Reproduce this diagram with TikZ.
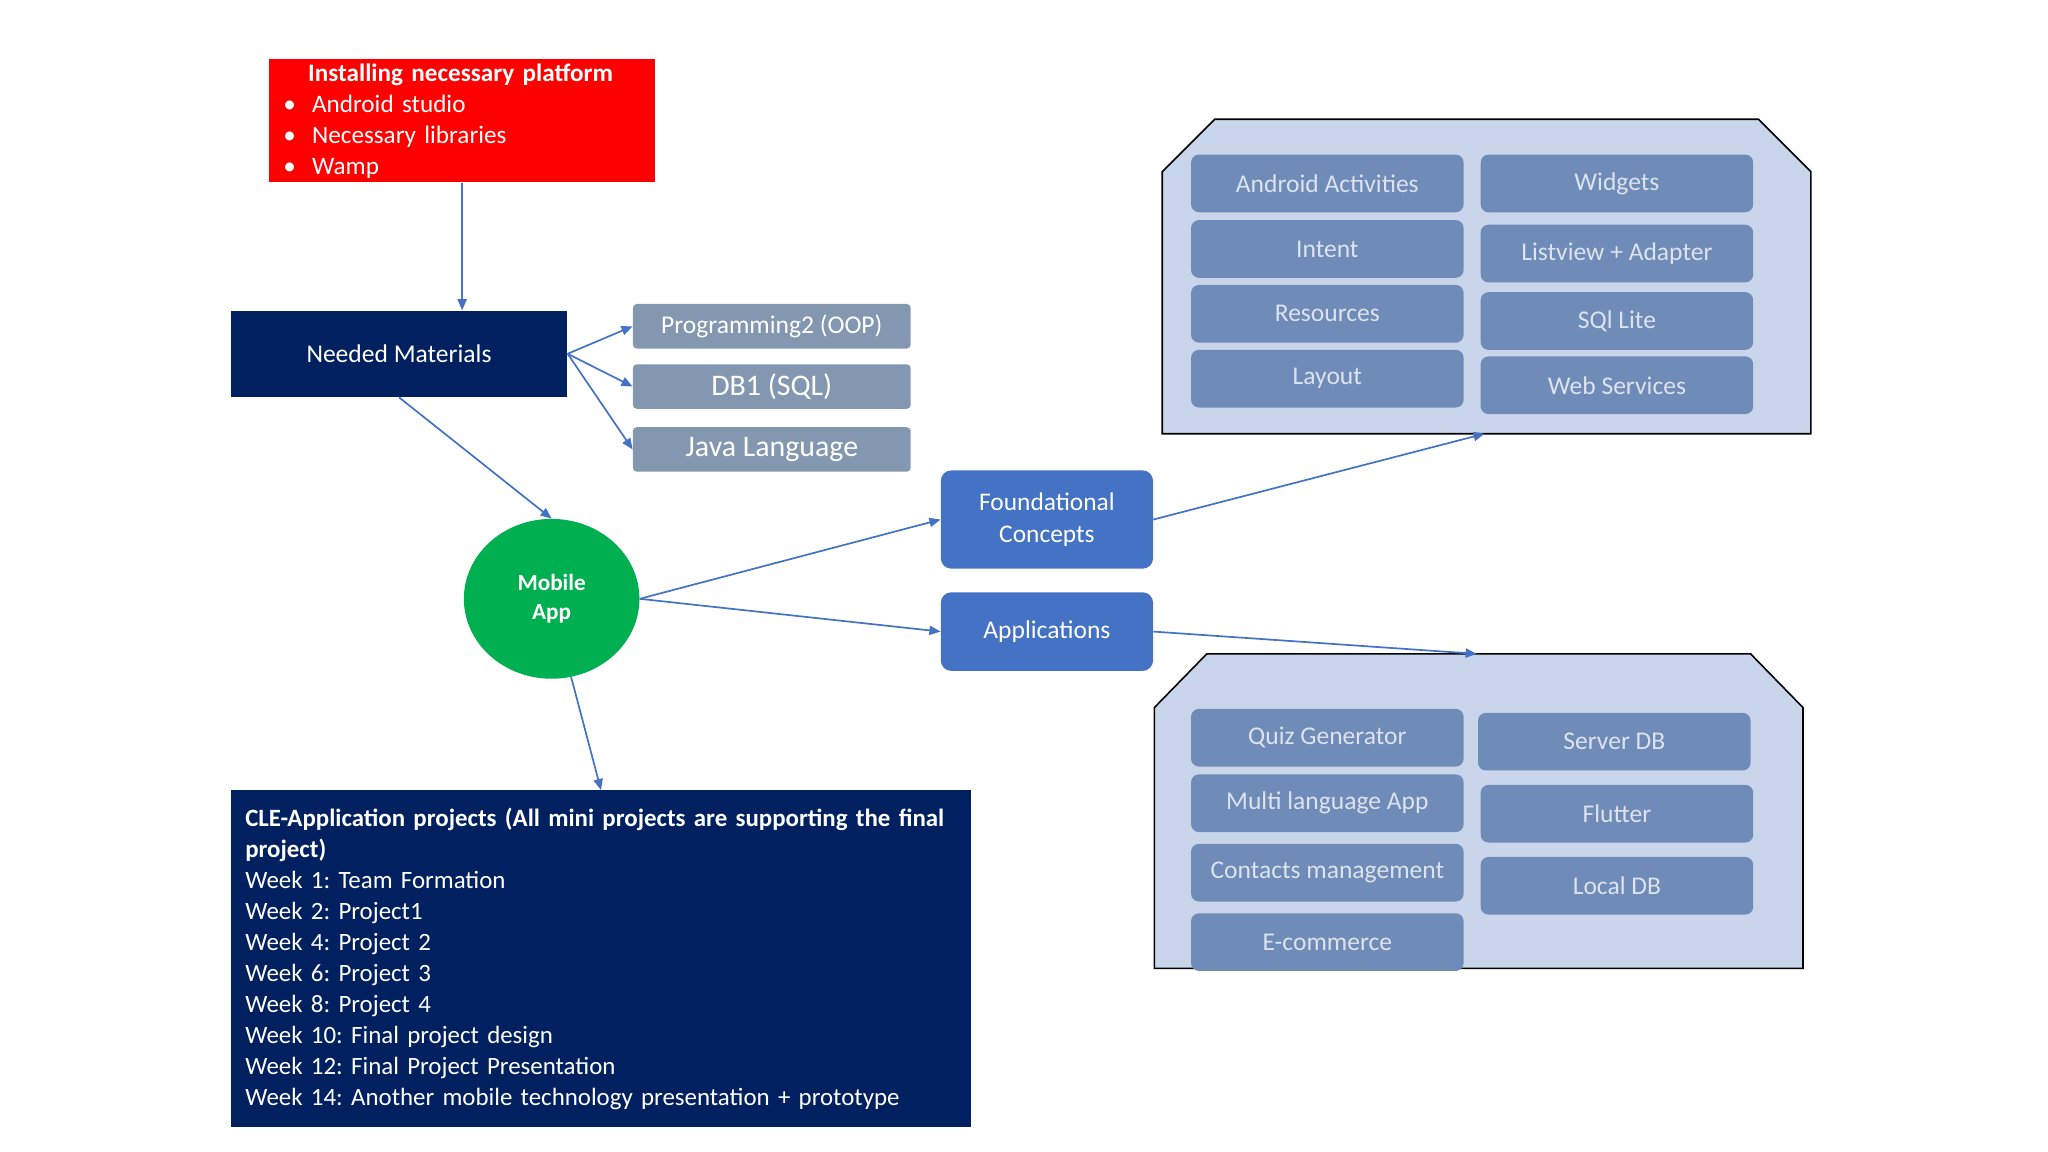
\documentclass[tikz,border=0pt]{standalone}
\usepackage{fontspec}
\setmainfont{Carlito}
\usepackage{xcolor}
\usepackage{tikz}
\usetikzlibrary{shapes.geometric}
\usetikzlibrary{arrows.meta}

\definecolor{navy}{HTML}{002060}
\definecolor{signalred}{HTML}{FF0000}
\definecolor{appgreen}{HTML}{00B050}
\definecolor{linkblue}{HTML}{4472C4}
\definecolor{slate}{HTML}{8497B0}
\definecolor{groupfill}{HTML}{C9D5EB}
\definecolor{tilefill}{HTML}{6F8BB8}
\definecolor{tiletext}{HTML}{DDE3EE}
\frenchspacing

\begin{document}
\begin{tikzpicture}[x=1pt, y=-1pt,
		every node/.style={inner sep=0pt, text=white, font=\fontsize{19.5}{23.6}\selectfont},
		link/.style={draw=linkblue, line width=1.3pt, -{Triangle[length=8.5pt, width=7pt]}},
		subject/.style={fill=slate, rounded corners=3pt, minimum width=212, minimum height=34},
		tile/.style={fill=tilefill, rounded corners=6pt, minimum width=208, minimum height=44, text=tiletext, font=\fontsize{19.5}{22}\selectfont},
		group/.style={fill=groupfill, draw=black, line width=1.2pt}]
	\useasboundingbox (0,0) rectangle (1563,879);

	% platform and materials
	\node[anchor=north west, fill=signalred, minimum width=295, minimum height=94, text width=273, inner xsep=11pt, align=left, font=\fontsize{19.2}{23.6}\selectfont] (install) at (205,45)
		{\textbf{\hspace*{19pt}Installing necessary platform}\\
		\makebox[22pt][l]{\textbullet}Android studio\\
		\makebox[22pt][l]{\textbullet}Necessary libraries\\
		\makebox[22pt][l]{\textbullet}Wamp};
	\node[fill=navy, minimum width=257, minimum height=66] (needed) at (304.5,270) {Needed Materials};
	\node[subject] (oop) at (589,249) {Programming2 (OOP)};
	\node[subject, font=\fontsize{22.8}{26}\selectfont] (sql) at (589,295) {DB1 (SQL)};
	\node[subject, font=\fontsize{22.8}{26}\selectfont] (java) at (589,343) {Java Language};

	% centre
	\node[ellipse, fill=appgreen, minimum width=134, minimum height=122, align=center, font=\bfseries\fontsize{17.7}{22}\selectfont] (mobile) at (421,457) {Mobile\\App};
	\node[fill=linkblue, rounded corners=8pt, minimum width=162, minimum height=75, align=center, font=\fontsize{19.4}{24}\selectfont] (concepts) at (799,396.5) {Foundational\\Concepts};
	\node[fill=linkblue, rounded corners=8pt, minimum width=162, minimum height=60] (apps) at (799,482) {Applications};

	% projects
	\node[anchor=north west, fill=navy, minimum width=565, minimum height=257, text width=543, inner xsep=11pt, align=left, font=\fontsize{19}{23.6}\selectfont] (projects) at (176,603)
		{\textbf{CLE-Application projects (All mini projects are supporting the final}\\
		\textbf{project)}\\
		Week 1: Team Formation\\
		Week 2: Project1\\
		Week 4: Project 2\\
		Week 6: Project 3\\
		Week 8: Project 4\\
		Week 10: Final project design\\
		Week 12: Final Project Presentation\\
		Week 14: Another mobile technology presentation + prototype};

	% groups
	\draw[group] (887,331) -- (887,131) -- (927,91) -- (1342,91) -- (1382,131) -- (1382,331) -- cycle;
	\draw[group] (881,739) -- (881,540) -- (921,499) -- (1336,499) -- (1376,540) -- (1376,739) -- cycle;
	\coordinate (conceptsdock) at (1133,331);
	\coordinate (appsdock) at (1127,499);

	\node[tile] (activities) at (1013,140) {Android Activities};
	\node[tile] (intent) at (1013,190) {Intent};
	\node[tile] (resources) at (1013,239.5) {Resources};
	\node[tile] (layout) at (1013,289) {Layout};
	\node[tile] (widgets) at (1234,140) {Widgets};
	\node[tile] (listview) at (1234,193.5) {Listview + Adapter};
	\node[tile] (sqlite) at (1234,245) {SQl Lite};
	\node[tile] (webservices) at (1234,294) {Web Services};

	\node[tile] (quiz) at (1013,563) {Quiz Generator};
	\node[tile] (multilang) at (1013,613) {Multi language App};
	\node[tile] (contacts) at (1013,666) {Contacts management};
	\node[tile] (ecommerce) at (1013,719) {E-commerce};
	\node[tile] (serverdb) at (1232,566) {Server DB};
	\node[tile] (flutter) at (1234,621) {Flutter};
	\node[tile] (localdb) at (1234,676) {Local DB};

	% connectors
	\draw[link] (install.south) -- (install.south |- needed.north);
	\draw[link] (needed.east) -- (oop.west);
	\draw[link] (needed.east) -- (sql.west);
	\draw[link] (needed.east) -- (java.west);
	\draw[link] (needed.south) -- (mobile.north);
	\draw[link] (mobile.east) -- (concepts.west);
	\draw[link] (mobile.east) -- (apps.west);
	\draw[link] (mobile.-76) -- (projects.north);
	\draw[link] (concepts.east) -- (conceptsdock);
	\draw[link] (apps.east) -- (appsdock);
\end{tikzpicture}
\end{document}
